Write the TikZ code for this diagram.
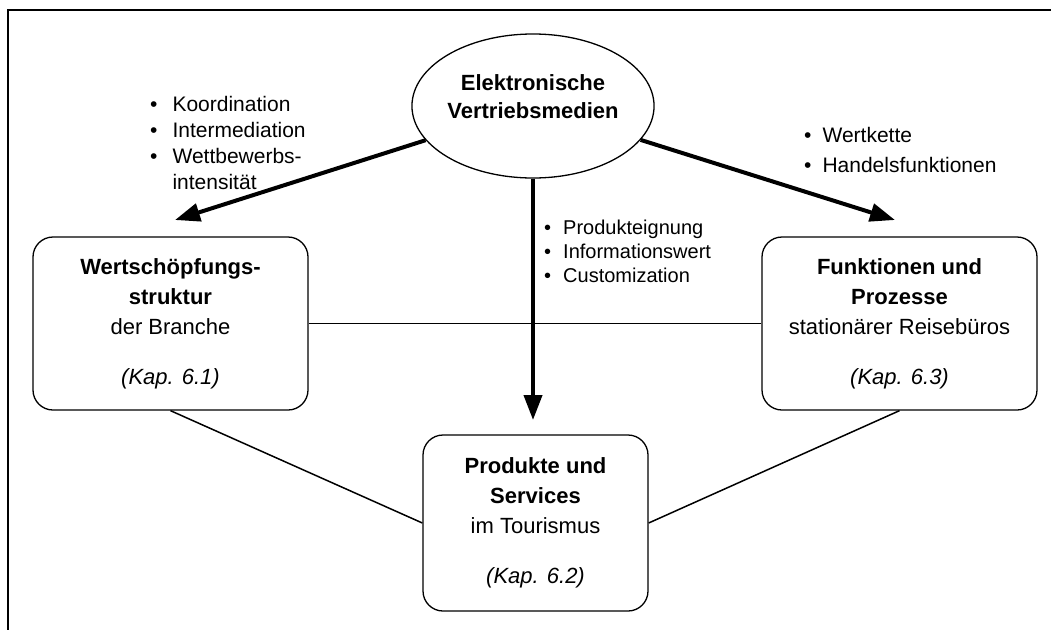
\documentclass[tikz,border=0pt]{standalone}
\usepackage{fontspec}
\setmainfont{Liberation Sans}
\usepackage{tikz}
\usetikzlibrary{
  arrows.meta,
  calc,
  shapes.geometric
}
\tikzset{
  frame/.style={line width=1.4pt,draw=black},
  topic/.style={draw,line width=1.3pt,rounded corners=20pt,align=center,
    minimum width=275pt,minimum height=173pt,inner sep=0pt,
    font=\fontsize{22}{30}\selectfont},
  medium/.style={ellipse,draw,line width=1.3pt,minimum width=240pt,
    minimum height=144pt,inner sep=0pt,align=center,text depth=18pt,
    font=\bfseries\fontsize{22}{28}\selectfont},
  impact/.style={-{Triangle[length=25pt,width=18pt]},line width=4pt},
  link/.style={line width=1.5pt},
  bullets/.style={anchor=base west,inner sep=0pt,align=left}
}
\newcommand{\kap}[1]{\textit{(Kap. #1)}}

\begin{document}
\begin{tikzpicture}[x=1pt,y=-1pt]
  \useasboundingbox (0,0) rectangle (1051,630);
  \draw[frame] (1051,10) -- (8,10) -- (8,630);

  % the medium and its three fields
  \node[medium] (ell) at (533,106) {Elektronische\\Vertriebsmedien};
  \node[topic] (wert) at (170.5,323.5)
    {\textbf{Wertschöpfungs-}\\\textbf{struktur}\\der Branche\\[20pt]\kap{6.1}};
  \node[topic] (funk) at (899.5,323.5)
    {\textbf{Funktionen und}\\\textbf{Prozesse}\\stationärer Reisebüros\\[20pt]\kap{6.3}};
  \node[topic,minimum width=225pt,minimum height=176pt] (prod) at (535.5,523)
    {\textbf{Produkte und}\\\textbf{Services}\\im Tourismus\\[20pt]\kap{6.2}};

  % arrow tips
  \coordinate (tipL) at (175,220);
  \coordinate (tipR) at (895,220);
  \coordinate (tipC) at (533,420);

  \draw[link] (wert.east) -- (funk.west);
  \draw[link] (wert.south) -- (prod.west);
  \draw[link] (funk.south) -- (prod.east);
  \draw[impact] (ell) -- (tipL);
  \draw[impact] (ell) -- (tipR);
  \draw[impact] (ell.south) -- (tipC);

  % bullet lists
  \node[bullets,font=\fontsize{21}{26}\selectfont] (coord) at (150,111)
    {\begin{tabular}[t]{@{}l@{\hspace{15pt}}l@{}}
      \textbullet & Koordination\\
      \textbullet & Intermediation\\
      \textbullet & Wettbewerbs-\\
                  & intensität
    \end{tabular}};
  \node[bullets,font=\fontsize{21}{30}\selectfont] (chain) at (804,142)
    {\begin{tabular}[t]{@{}l@{\hspace{11pt}}l@{}}
      \textbullet & Wertkette\\
      \textbullet & Handelsfunktionen
    \end{tabular}};
  \node[bullets,font=\fontsize{20}{24}\selectfont] (fit) at (544,234)
    {\begin{tabular}[t]{@{}l@{\hspace{12pt}}l@{}}
      \textbullet & Produkteignung\\
      \textbullet & Informationswert\\
      \textbullet & Customization
    \end{tabular}};
\end{tikzpicture}
\end{document}
